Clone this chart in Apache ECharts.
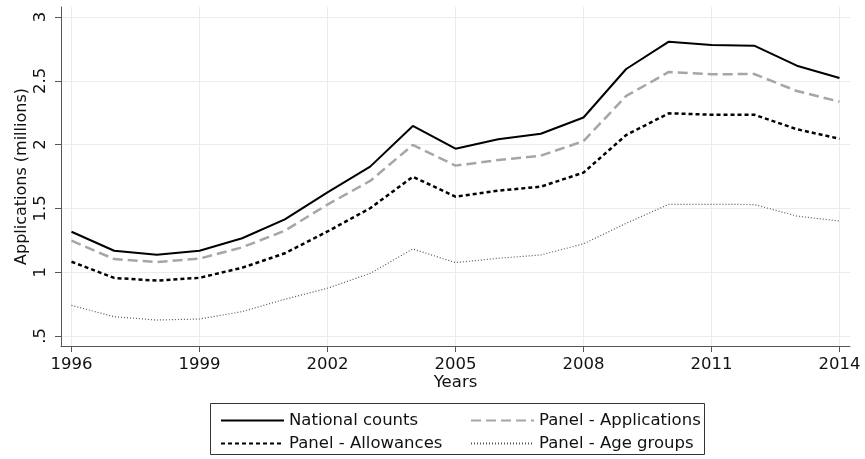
<!DOCTYPE html>
<html>
<head>
<meta charset="utf-8">
<script src="https://cdn.jsdelivr.net/npm/echarts@6/dist/echarts.min.js"></script>
<style>
  html, body { margin: 0; padding: 0; background: #fff; }
  #chart { width: 865px; height: 459px; }
</style>
</head>
<body>
<div id="chart"></div>
<script>
// Applications per year, in millions
const years = [1996, 1997, 1998, 1999, 2000, 2001, 2002, 2003, 2004, 2005,
               2006, 2007, 2008, 2009, 2010, 2011, 2012, 2013, 2014];
const nationalCounts = [1.317, 1.168, 1.137, 1.168, 1.266, 1.414, 1.625, 1.827, 2.146, 1.968,
                        2.041, 2.085, 2.212, 2.592, 2.806, 2.780, 2.775, 2.618, 2.522];
const panelApplications = [1.247, 1.103, 1.080, 1.106, 1.195, 1.325, 1.530, 1.715, 1.997, 1.835,
                           1.879, 1.913, 2.027, 2.381, 2.569, 2.551, 2.553, 2.420, 2.336];
const panelAllowances = [1.082, 0.955, 0.934, 0.956, 1.035, 1.148, 1.319, 1.501, 1.748, 1.592,
                         1.639, 1.670, 1.780, 2.075, 2.245, 2.234, 2.234, 2.120, 2.046];
const panelAgeGroups = [0.740, 0.651, 0.625, 0.633, 0.691, 0.788, 0.874, 0.991, 1.182, 1.075,
                        1.109, 1.135, 1.222, 1.383, 1.532, 1.532, 1.530, 1.440, 1.401];

const xTicks = [1996, 1999, 2002, 2005, 2008, 2011, 2014];
const yTicks = [0.5, 1, 1.5, 2, 2.5, 3];
const yTickLabels = ['.5', '1', '1.5', '2', '2.5', '3'];

const seriesNames = ['National counts', 'Panel - Applications', 'Panel - Allowances', 'Panel - Age groups'];

const FONT = 'DejaVu Sans';
const FS = 16.5;
const pairs = vals => years.map((y, i) => [y, vals[i]]);

const chart = echarts.init(document.getElementById('chart'), null, { renderer: 'canvas' });

const axisLineStyle = { color: '#555', width: 1 };
const gridLineStyle = { color: '#e4eef0', width: 1 };

// One legend entry per key cell: two columns, two rows
const legendCell = (name, left, top) => ({
  show: true,
  orient: 'horizontal',
  left, top,
  itemWidth: 63, itemHeight: 14,
  data: [name],
  itemStyle: { opacity: 0 },
  textStyle: { fontFamily: FONT, fontSize: FS, color: '#111' },
  selectedMode: false
});

chart.setOption({
  animation: false,
  backgroundColor: '#fff',
  textStyle: { fontFamily: FONT },
  grid: { left: 61, right: 15, top: 7, bottom: 113, containLabel: false },
  xAxis: {
    type: 'value',
    min: 1995.754,
    max: 2014.246,
    name: 'Years',
    nameLocation: 'middle',
    nameGap: 28,
    nameMoveOverlap: false,
    nameTextStyle: { fontFamily: FONT, fontSize: FS, color: '#111' },
    axisLine: { show: true, onZero: false, lineStyle: axisLineStyle },
    axisTick: { show: true, length: 6, customValues: xTicks, lineStyle: axisLineStyle },
    axisLabel: { customValues: xTicks, margin: 10, fontFamily: FONT, fontSize: FS, color: '#111',
                 formatter: v => String(v) },
    splitLine: { show: true, lineStyle: gridLineStyle }
  },
  yAxis: {
    type: 'value',
    min: 0.4216,
    max: 3.078,
    name: 'Applications (millions)',
    nameLocation: 'middle',
    nameGap: 31,
    nameMoveOverlap: false,
    nameRotate: 90,
    nameTextStyle: { fontFamily: FONT, fontSize: 16, color: '#111' },
    axisLine: { show: true, onZero: false, lineStyle: axisLineStyle },
    axisTick: { show: true, length: 6, customValues: yTicks, lineStyle: axisLineStyle },
    axisLabel: {
      customValues: yTicks, rotate: 90, margin: 12, fontFamily: FONT, fontSize: FS, color: '#111',
      formatter: v => { const i = yTicks.findIndex(t => Math.abs(t - v) < 1e-9); return i >= 0 ? yTickLabels[i] : ''; }
    },
    splitLine: { show: true, lineStyle: gridLineStyle }
  },
  legend: [
    legendCell(seriesNames[0], 215, 407),
    legendCell(seriesNames[1], 465, 407),
    legendCell(seriesNames[2], 215, 430),
    legendCell(seriesNames[3], 465, 430)
  ],
  graphic: [
    {
      type: 'rect', left: 208, top: 401, silent: true,
      shape: { width: 494, height: 51 },
      style: { fill: 'none', stroke: '#333', lineWidth: 1 }
    }
  ],
  series: [
    {
      name: seriesNames[0], type: 'line', symbol: 'none', data: pairs(nationalCounts),
      itemStyle: { color: '#000' },
      lineStyle: { color: '#000', width: 2, type: 'solid' }, z: 5
    },
    {
      name: seriesNames[1], type: 'line', symbol: 'none', data: pairs(panelApplications),
      itemStyle: { color: '#a6a6a6' },
      lineStyle: { color: '#a6a6a6', width: 2.5, type: [10, 5] }, z: 4
    },
    {
      name: seriesNames[2], type: 'line', symbol: 'none', data: pairs(panelAllowances),
      itemStyle: { color: '#000' },
      lineStyle: { color: '#000', width: 2.5, type: [4, 3] }, z: 3
    },
    {
      name: seriesNames[3], type: 'line', symbol: 'none', data: pairs(panelAgeGroups),
      itemStyle: { color: '#555' },
      lineStyle: { color: '#555', width: 1.2, type: [1, 2] }, z: 2
    }
  ]
});
</script>
</body>
</html>
